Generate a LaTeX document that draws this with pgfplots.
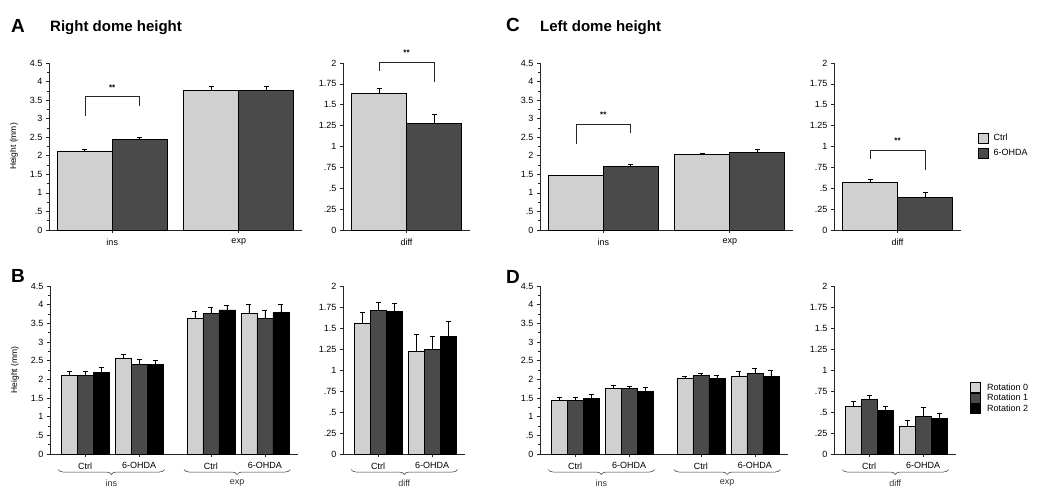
\documentclass[border=0pt]{standalone}
\usepackage{fontspec}
\setmainfont{Liberation Sans}
\usepackage{pgfplots}
\pgfplotsset{compat=1.18}
\usetikzlibrary{decorations.pathreplacing}

\definecolor{ctrlgray}{RGB}{208,208,208}
\definecolor{ohdagray}{RGB}{74,74,74}

\pgfplotsset{
  panel/.style={
    scale only axis, anchor=south west,
    axis x line*=bottom, axis y line*=left,
    ymin=0, ybar=0pt, clip=false,
    axis line style={line width=0.8pt, black!85},
    tick style={line width=0.6pt, black!85},
    tick align=outside,
    major tick length=3pt, minor tick length=2pt,
    tick label style={font=\fontsize{9}{10}\selectfont},
    xticklabel style={yshift=-2pt},
    /pgf/number format/assume math mode=true,
    error bars/y dir=plus, error bars/y explicit,
    error bars/error bar style={line width=0.6pt, black},
    error bars/error mark options={rotate=90, mark size=2.5pt, line width=0.6pt, black},
    ylabel style={font=\fontsize{8.5}{10}\selectfont, at={([xshift=-35pt]axis description cs:0,0.5)}, anchor=center},
  },
  tall/.style={height=167pt, ymax=4.5, ytick={0,0.5,1,1.5,2,2.5,3,3.5,4,4.5},
    yticklabels={0,.5,1,1.5,2,2.5,3,3.5,4,4.5}, minor y tick num=1},
  short/.style={height=167pt, ymax=2, ytick={0,0.25,0.5,0.75,1,1.25,1.5,1.75,2},
    yticklabels={0,.25,.5,.75,1,1.25,1.5,1.75,2}},
  top/.style={bar width=55pt},
  bottom/.style={bar width=16pt, xtick={0,1,2.33,3.33},
    xticklabels={Ctrl,6-OHDA,Ctrl,6-OHDA}},
  sqleg/.style={legend image code/.code={\draw[##1,draw=black,line width=0.5pt] (0pt,-5pt) rectangle (10pt,5pt);},
    legend cell align=left},
  bar0/.style={fill=ctrlgray, draw=black, line width=0.8pt},
  bar1/.style={fill=ohdagray, draw=black, line width=0.8pt},
  bar2/.style={fill=black, draw=black, line width=0.8pt},
}

\newcommand{\sig}[5]{% x1, x2, left leg, top, right leg
  \draw[line width=0.6pt, black!85] (axis cs:#1,#3) |- (axis cs:#2,#4) -- (axis cs:#2,#5);
  \node[font=\fontsize{8}{8}\selectfont\bfseries] at (axis cs:0,#4) [yshift=9pt] {**};}

\newcommand{\grp}[3]{% from, to, label
  \draw[line width=0.5pt, black!80, decorate, decoration={brace, mirror, amplitude=5pt}]
    ([yshift=-15.5pt]axis cs:#1,0) -- ([yshift=-15.5pt]axis cs:#2,0)
    node[midway, yshift=-13.5pt, font=\fontsize{9}{10}\selectfont] {#3};}

\begin{document}
\begin{tikzpicture}
\useasboundingbox (0,0) rectangle (1038pt,-490pt);

% ---- titles
\node[anchor=base west, inner sep=0pt, font=\fontsize{19}{19}\selectfont\bfseries] at (11pt,-32pt) {A};
\node[anchor=base west, inner sep=0pt, font=\fontsize{15}{15}\selectfont\bfseries] at (50pt,-31pt) {Right dome height};
\node[anchor=base west, inner sep=0pt, font=\fontsize{19}{19}\selectfont\bfseries] at (506pt,-31pt) {C};
\node[anchor=base west, inner sep=0pt, font=\fontsize{15}{15}\selectfont\bfseries] at (540pt,-31pt) {Left dome height};
\node[anchor=base west, inner sep=0pt, font=\fontsize{19}{19}\selectfont\bfseries] at (11pt,-282pt) {B};
\node[anchor=base west, inner sep=0pt, font=\fontsize{19}{19}\selectfont\bfseries] at (506pt,-283pt) {D};

% ---- A: right dome, ins/exp
\begin{axis}[panel, tall, top, at={(49pt,-230pt)}, width=253pt,
  xmin=-0.5, xmax=1.5, xtick={0,1}, xticklabels={ins,exp}, ylabel={Height (mm)}]
\addplot[bar0] coordinates {(0,2.13) +- (0,0.04) (1,3.76) +- (0,0.10)};
\addplot[bar1] coordinates {(0,2.44) +- (0,0.06) (1,3.75) +- (0,0.11)};
\sig{-0.217}{0.217}{3.07}{3.59}{3.34}
\end{axis}

% ---- A: right dome, diff
\begin{axis}[panel, short, top, at={(343pt,-230pt)}, width=127pt,
  xmin=-0.5, xmax=0.5, xtick={0}, xticklabels={diff}]
\addplot[bar0] coordinates {(0,1.637) +- (0,0.065)};
\addplot[bar1] coordinates {(0,1.278) +- (0,0.11)};
\sig{-0.217}{0.217}{1.90}{2.01}{1.77}
\end{axis}

% ---- C: left dome, ins/exp
\begin{axis}[panel, tall, top, at={(540pt,-230pt)}, width=253pt,
  xmin=-0.5, xmax=1.5, xtick={0,1}, xticklabels={ins,exp}]
\addplot[bar0] coordinates {(0,1.46) +- (0,0.02) (1,2.04) +- (0,0.04)};
\addplot[bar1] coordinates {(0,1.72) +- (0,0.06) (1,2.10) +- (0,0.08)};
\sig{-0.217}{0.217}{2.32}{2.86}{2.61}
\end{axis}

% ---- C: left dome, diff
\begin{axis}[panel, short, top, at={(834pt,-230pt)}, width=127pt,
  xmin=-0.5, xmax=0.5, xtick={0}, xticklabels={diff}, sqleg,
  legend style={draw=none, fill=none, font=\fontsize{9}{10}\selectfont,
    at={(axis description cs:1.11,0.6)}, anchor=north west, row sep=3pt,
    /tikz/every odd column/.append style={column sep=3pt}}]
\addplot[bar0] coordinates {(0,0.567) +- (0,0.04)};
\addplot[bar1] coordinates {(0,0.387) +- (0,0.06)};
\legend{Ctrl,6-OHDA}
\sig{-0.217}{0.217}{0.85}{0.958}{0.72}
\end{axis}

% ---- B: right dome by rotation
\begin{axis}[panel, tall, bottom, at={(50pt,-454pt)}, width=248.4pt, height=168pt,
  xmin=-0.65, xmax=3.95, ylabel={Height (mm)}]
\addplot[bar0] coordinates {(0,2.10) +- (0,0.12) (1,2.55) +- (0,0.11) (2.33,3.64) +- (0,0.19) (3.33,3.76) +- (0,0.25)};
\addplot[bar1] coordinates {(0,2.10) +- (0,0.12) (1,2.41) +- (0,0.13) (2.33,3.77) +- (0,0.15) (3.33,3.64) +- (0,0.21)};
\addplot[bar2] coordinates {(0,2.19) +- (0,0.13) (1,2.39) +- (0,0.13) (2.33,3.86) +- (0,0.12) (3.33,3.79) +- (0,0.23)};
\grp{-0.5}{1.47}{ins}
\grp{1.83}{3.8}{exp}
\end{axis}

\begin{axis}[panel, short, bottom, at={(343pt,-454pt)}, width=121.5pt, height=168pt,
  xmin=-0.65, xmax=1.6]
\addplot[bar0] coordinates {(0,1.56) +- (0,0.13) (1,1.22) +- (0,0.20)};
\addplot[bar1] coordinates {(0,1.71) +- (0,0.10) (1,1.24) +- (0,0.16)};
\addplot[bar2] coordinates {(0,1.70) +- (0,0.09) (1,1.40) +- (0,0.18)};
\grp{-0.5}{1.47}{diff}
\end{axis}

% ---- D: left dome by rotation
\begin{axis}[panel, tall, bottom, at={(540pt,-454pt)}, width=248.4pt, height=168pt,
  xmin=-0.65, xmax=3.95]
\addplot[bar0] coordinates {(0,1.44) +- (0,0.09) (1,1.75) +- (0,0.10) (2.33,2.02) +- (0,0.07) (3.33,2.09) +- (0,0.12)};
\addplot[bar1] coordinates {(0,1.44) +- (0,0.09) (1,1.75) +- (0,0.06) (2.33,2.10) +- (0,0.07) (3.33,2.16) +- (0,0.14)};
\addplot[bar2] coordinates {(0,1.50) +- (0,0.10) (1,1.67) +- (0,0.11) (2.33,2.02) +- (0,0.09) (3.33,2.07) +- (0,0.16)};
\grp{-0.5}{1.47}{ins}
\grp{1.83}{3.8}{exp}
\end{axis}

\begin{axis}[panel, short, bottom, at={(834pt,-454pt)}, width=121.5pt, height=168pt,
  xmin=-0.65, xmax=1.6, sqleg,
  legend style={draw=none, fill=none, font=\fontsize{9}{10}\selectfont,
    at={(axis description cs:1.09,0.44)}, anchor=north west, row sep=0pt,
    nodes={inner sep=1pt},
    /tikz/every odd column/.append style={column sep=6pt}}]
\addplot[bar0] coordinates {(0,0.57) +- (0,0.06) (1,0.33) +- (0,0.07)};
\addplot[bar1] coordinates {(0,0.65) +- (0,0.05) (1,0.45) +- (0,0.11)};
\addplot[bar2] coordinates {(0,0.52) +- (0,0.05) (1,0.42) +- (0,0.07)};
\legend{Rotation 0,Rotation 1,Rotation 2}
\grp{-0.5}{1.47}{diff}
\end{axis}
\end{tikzpicture}
\end{document}
